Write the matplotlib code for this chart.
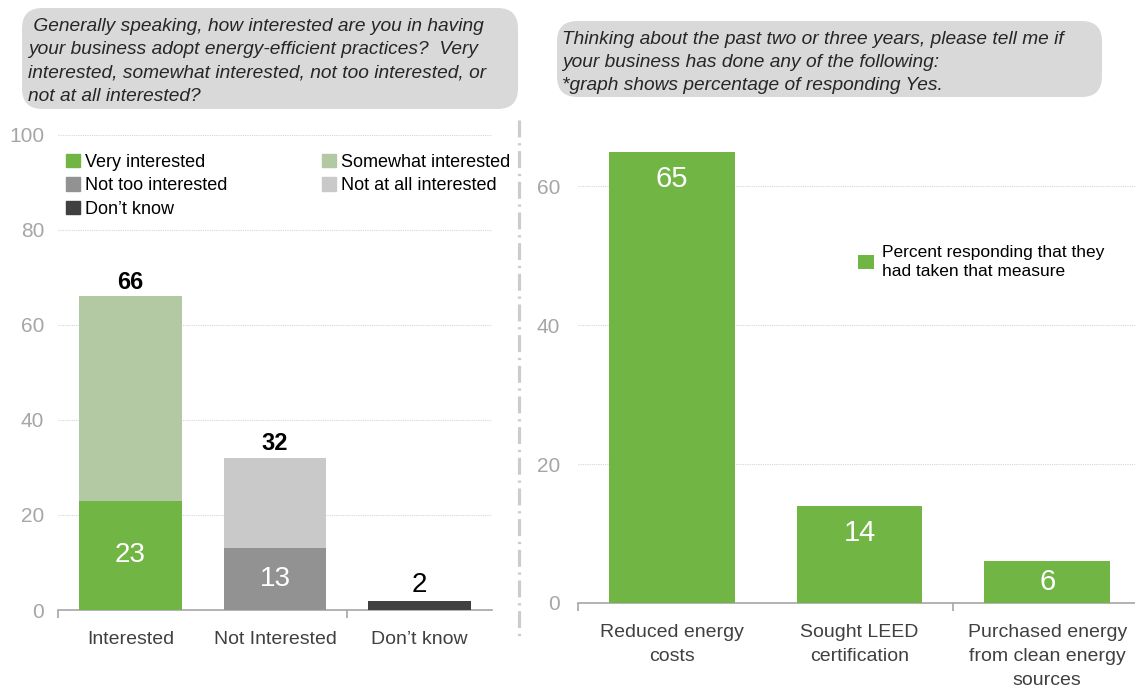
import matplotlib
matplotlib.use("Agg")
import matplotlib.pyplot as plt
from matplotlib.patches import FancyBboxPatch, Patch
from matplotlib.lines import Line2D

plt.rcParams['font.family'] = ['Liberation Sans', 'DejaVu Sans']

# ---------------- data ----------------
left_categories = ["Interested", "Not Interested", "Don\u2019t know"]
very_interested = [23, 0, 0]
somewhat_interested = [43, 0, 0]
not_too_interested = [0, 13, 0]
not_at_all_interested = [0, 19, 0]
dont_know = [0, 0, 2]
left_ticks = [0, 20, 40, 60, 80, 100]

right_categories = ["Reduced energy\ncosts", "Sought LEED\ncertification",
                    "Purchased energy\nfrom clean energy\nsources"]
right_values = [65, 14, 6]
right_ticks = [0, 20, 40, 60]

left_question = (" Generally speaking, how interested are you in having\n"
                 "your business adopt energy-efficient practices?  Very\n"
                 "interested, somewhat interested, not too interested, or\n"
                 "not at all interested?")
right_question = ("Thinking about the past two or three years, please tell me if\n"
                  "your business has done any of the following:\n"
                  "*graph shows percentage of responding Yes.")
right_legend_label = "Percent responding that they\nhad taken that measure"

# ---------------- style ----------------
GREEN = "#71b545"
SOMEWHAT = "#b2c9a3"
NOTTOO = "#929292"
NOTALL = "#c9c9c9"
DK = "#404040"
TICKC = "#a6a6a6"
GRIDC = "#d6d6d6"
W, H = 1135, 689

fig = plt.figure(figsize=(W / 100, H / 100), dpi=100)


def px_rect(x0, y0, x1, y1):
    return [x0 / W, 1 - y1 / H, (x1 - x0) / W, (y1 - y0) / H]


def style_axes(ax, ypad):
    for s in ["top", "right", "left"]:
        ax.spines[s].set_visible(False)
    ax.spines["bottom"].set_color(TICKC)
    ax.spines["bottom"].set_linewidth(1.2)
    ax.tick_params(axis="y", length=0, labelsize=15, labelcolor=TICKC, pad=ypad)
    ax.tick_params(axis="x", which="major", length=0, labelsize=14,
                   labelcolor="#404040", pad=15)
    ax.tick_params(axis="x", which="minor", length=6, color=TICKC, width=1.2)
    ax.yaxis.grid(True, color=GRIDC, linestyle=(0, (1, 1)), linewidth=0.8)
    ax.set_axisbelow(True)


# ---------------- left chart ----------------
axL = fig.add_axes(px_rect(58, 135, 492, 610))
xs = list(range(len(left_categories)))
bw = 0.71
series = [
    ("Very interested", very_interested, GREEN),
    ("Somewhat interested", somewhat_interested, SOMEWHAT),
    ("Not too interested", not_too_interested, NOTTOO),
    ("Not at all interested", not_at_all_interested, NOTALL),
    ("Don\u2019t know", dont_know, DK),
]
bottoms = [0] * len(xs)
handles = {}
for name, vals, col in series:
    b = axL.bar(xs, vals, bw, bottom=bottoms, color=col, label=name, zorder=3)
    handles[name] = b
    bottoms = [bo + v for bo, v in zip(bottoms, vals)]

axL.set_xlim(-0.5, len(xs) - 0.5)
axL.set_ylim(0, 100)
axL.set_yticks(left_ticks)
axL.set_xticks(xs)
axL.set_xticklabels(left_categories)
axL.set_xticks([-0.5, 1.5], minor=True)
style_axes(axL, 10)

totals = bottoms
for i in xs:
    segs = [vals[i] for _, vals, _ in series if vals[i] > 0]
    if len(segs) > 1:
        axL.text(i, segs[0] / 2, f"{segs[0]}", ha="center", va="center",
                 color="white", fontsize=20, zorder=4)
        axL.annotate(f"{totals[i]}", (i, totals[i]), xytext=(0, 2),
                     textcoords="offset points", ha="center", va="bottom",
                     fontsize=17, fontweight="bold", color="black")
    else:
        axL.annotate(f"{totals[i]}", (i, totals[i]), xytext=(0, 2),
                     textcoords="offset points", ha="center", va="bottom",
                     fontsize=20, color="black")

order = ["Very interested", "Not too interested", "Don\u2019t know",
         "Somewhat interested", "Not at all interested"]
axL.legend([Patch(color=handles[n].patches[0].get_facecolor()) for n in order],
           order, ncol=2, loc="upper left",
           bbox_to_anchor=(66 / W, 1 - 154 / H),
           bbox_transform=fig.transFigure, frameon=False, fontsize=13,
           handlelength=0.75, handleheight=0.75, handletextpad=0.3,
           columnspacing=5.25, labelspacing=0.35, borderaxespad=0,
           borderpad=0)

# ---------------- right chart ----------------
axR = fig.add_axes(px_rect(578, 117, 1141, 603))
xr = list(range(len(right_categories)))
axR.bar(xr, right_values, 0.67, color=GREEN, zorder=3,
        label=right_legend_label)
axR.set_xlim(-0.5, len(xr) - 0.5)
axR.set_ylim(0, 70)
axR.set_yticks(right_ticks)
axR.set_xticks(xr)
axR.set_xticklabels(right_categories, linespacing=1.55)
axR.set_xticks([-0.5, 1.5], minor=True)
style_axes(axR, 13)
for i, v in zip(xr, right_values):
    axR.text(i, max(v - 3.9, v / 2), f"{v}", ha="center", va="center",
             color="white", fontsize=21, zorder=4)

legR = axR.legend(loc="upper left", bbox_to_anchor=(858 / W, 1 - 245 / H),
                  bbox_transform=fig.transFigure, frameon=False, fontsize=12.5,
                  handlelength=0.9, handleheight=0.9, handletextpad=0.5,
                  borderaxespad=0, borderpad=0, labelspacing=0.2)
for t in legR.get_texts():
    t.set_linespacing(1.35)

# ---------------- header boxes ----------------
def header(x0, y0, x1, y1, text, tx, ty, fs):
    box = FancyBboxPatch((x0 / W, 1 - y1 / H), (x1 - x0) / W, (y1 - y0) / H,
                         boxstyle="round,pad=0,rounding_size=0.018",
                         transform=fig.transFigure, facecolor="#d9d9d9",
                         edgecolor="none", mutation_aspect=W / H)
    fig.add_artist(box)
    fig.text(tx / W, 1 - ty / H, text, ha="left", va="top", fontsize=fs,
             style="italic", color="#262626", linespacing=1.48)


header(22, 8, 518, 109, left_question, 28, 18, 13.8)
header(557, 21, 1102, 97, right_question, 562, 31, 13.8)

# ---------------- separator ----------------
fig.add_artist(Line2D([519 / W, 519 / W], [1 - 120 / H, 1 - 640 / H],
                      transform=fig.transFigure, color="#cccccc", linewidth=2.3,
                      dashes=(5.3, 1.8, 0.7, 1.8)))

fig.savefig("out.png", dpi=100)
